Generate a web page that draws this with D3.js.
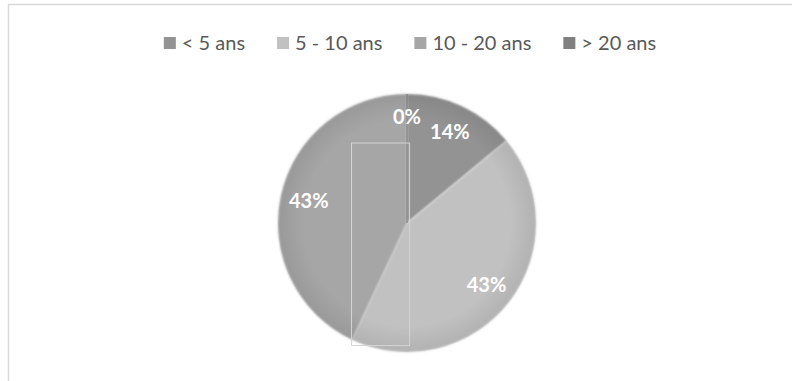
<!DOCTYPE html>
<html lang="fr">
<head>
  <meta charset="UTF-8">
  <title>Ancienneté</title>
  <script src="https://d3js.org/d3.v7.min.js"></script>
  <style>
    body {
      margin: 0;
      background-color: #ffffff;
    }

    .legend text {
      font-family: 'Lato', 'Open Sans', sans-serif;
      font-size: 20px;
      fill: #595959;
    }

    .slice-label {
      font-family: 'Lato', 'Open Sans', sans-serif;
      font-size: 20px;
      font-weight: bold;
      fill: #ffffff;
    }
  </style>
</head>
<body>
  <svg width="792" height="381"></svg>

  <script>
    // data
    const categories = ["< 5 ans", "5 - 10 ans", "10 - 20 ans", "> 20 ans"];
    const shares = [14, 43, 43, 0];
    const labels = ["14%", "43%", "43%", "0%"];
    const colors = ["#939393", "#c1c1c1", "#a6a6a6", "#7f7f7f"];

    const svg = d3.select("svg"),
      width = +svg.attr("width"),
      height = +svg.attr("height");

    const cx = 407, cy = 223, radius = 129;

    // chart frame (only top and left show in the picture)
    svg.append("rect")
      .attr("x", 8.5)
      .attr("y", 4.5)
      .attr("width", width + 20)
      .attr("height", height + 20)
      .attr("fill", "none")
      .attr("stroke", "#d9d9d9")
      .attr("stroke-width", 1.5);

    const data = categories.map((c, i) => ({ cat: c, value: shares[i], label: labels[i] }));

    const color = d3.scaleOrdinal()
      .domain(categories)
      .range(colors);

    // soft edge shading
    const defs = svg.append("defs");
    const grad = defs.append("radialGradient")
      .attr("id", "shade");
    grad.append("stop").attr("offset", "80%").attr("stop-color", "#000").attr("stop-opacity", 0);
    grad.append("stop").attr("offset", "100%").attr("stop-color", "#000").attr("stop-opacity", 0.08);
    defs.append("filter")
      .attr("id", "soft")
      .append("feGaussianBlur")
      .attr("stdDeviation", 0.8);

    const pie = d3.pie()
      .sort(null)
      .value(d => d.value);

    const arc = d3.arc()
      .innerRadius(0)
      .outerRadius(radius);

    const labelArc = d3.arc()
      .innerRadius(radius * 0.78)
      .outerRadius(radius * 0.78);

    const g = svg.append("g").attr("transform", `translate(${cx},${cy})`);
    const arcs = pie(data);

    g.selectAll(".slice")
      .data(arcs)
      .enter()
      .append("path")
      .attr("class", "slice")
      .attr("d", arc)
      .attr("fill", d => color(d.data.cat))
      .attr("filter", "url(#soft)");

    // the 0% slice shows up as a thin line
    g.selectAll(".zero")
      .data(arcs.filter(d => d.data.value === 0))
      .enter()
      .append("line")
      .attr("x1", 0).attr("y1", 0)
      .attr("x2", d => Math.sin(d.startAngle) * radius)
      .attr("y2", d => -Math.cos(d.startAngle) * radius)
      .attr("stroke", d => color(d.data.cat))
      .attr("stroke-width", 1.2);

    g.append("circle")
      .attr("r", radius)
      .attr("fill", "url(#shade)");

    // faint box artefact in the middle of the picture
    g.append("rect")
      .attr("x", -radius * 0.43)
      .attr("y", -radius * 0.62)
      .attr("width", radius * 0.45)
      .attr("height", radius * 1.57)
      .attr("fill", "none")
      .attr("stroke", "#d4d4d4")
      .attr("stroke-width", 1);

    g.selectAll(".slice-label")
      .data(arcs)
      .enter()
      .append("text")
      .attr("class", "slice-label")
      .attr("transform", d => `translate(${labelArc.centroid(d)})`)
      .attr("text-anchor", "middle")
      .attr("dy", d => d.data.value === 0 ? "0.1em" : "0.36em")
      .text(d => d.data.label);

    // legend, centred over the pie
    const legend = svg.append("g").attr("class", "legend");
    const sw = 12, gapText = 6, gapItem = 32;
    const items = legend.selectAll("g")
      .data(categories)
      .enter()
      .append("g");
    items.append("rect")
      .attr("width", sw)
      .attr("height", sw)
      .attr("y", -sw / 2)
      .attr("fill", d => color(d));
    items.append("text")
      .attr("x", sw + gapText)
      .attr("dy", "0.35em")
      .text(d => d);

    let xpos = 0;
    items.each(function() {
      const w = sw + gapText + this.querySelector("text").getComputedTextLength();
      d3.select(this).attr("transform", `translate(${xpos},0)`);
      xpos += w + gapItem;
    });
    const total = xpos - gapItem;
    legend.attr("transform", `translate(${cx + 3 - total / 2},43)`);
  </script>
</body>
</html>
